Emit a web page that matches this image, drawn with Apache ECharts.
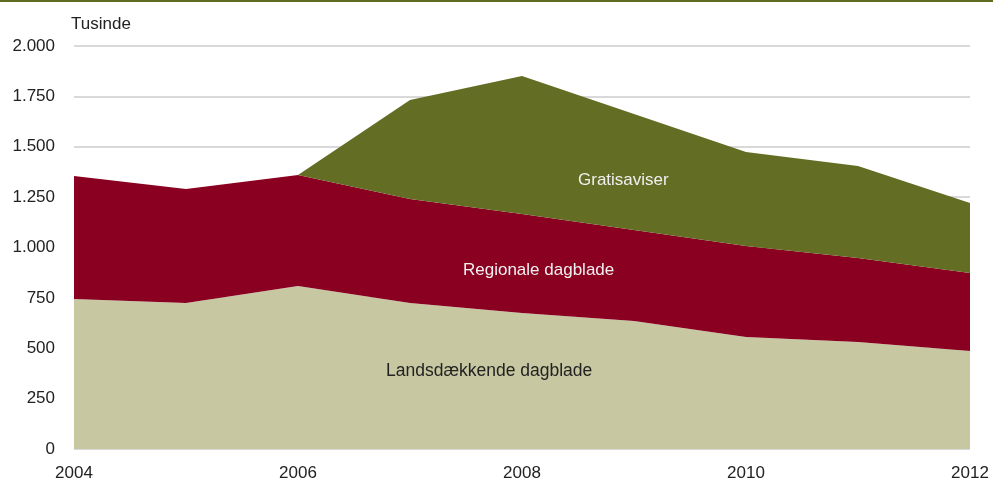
<!DOCTYPE html>
<html><head><meta charset="utf-8">
<script src="https://cdn.jsdelivr.net/npm/echarts@6/dist/echarts.min.js"></script>
<style>html,body{margin:0;padding:0;background:#fff}#c{width:993px;height:484px}</style>
</head><body><div id="c"></div>
<script>
const years = ['2004', '2005', '2006', '2007', '2008', '2009', '2010', '2011', '2012'];
const landsdaekkende = [744, 725, 809, 725, 675, 635, 556, 531, 486];
const regionale = [611, 565, 551, 516, 491, 452, 451, 417, 387];
const gratisaviser = [0, 0, 0, 491, 685, 576, 467, 456, 348];
const yTicks = [0, 250, 500, 750, 1000, 1250, 1500, 1750, 2000];

const FONT = '"Liberation Sans", Arial, sans-serif';
const fmt = v => v >= 1000 ? Math.floor(v / 1000) + '.' + String(v % 1000).padStart(3, '0') : String(v);

const chart = echarts.init(document.getElementById('c'), null, {renderer: 'canvas'});
const mk = (name, data, color) => ({
  name, type: 'line', stack: 'total', data, symbol: 'none',
  lineStyle: {width: 0}, areaStyle: {color, opacity: 1}, itemStyle: {color}
});
chart.setOption({
  animation: false,
  grid: {left: 74, right: 23, top: 46, bottom: 35},
  xAxis: {
    type: 'category', data: years, boundaryGap: false,
    axisLine: {show: false}, axisTick: {show: false}, splitLine: {show: false},
    axisLabel: {interval: 1, color: '#222', fontFamily: FONT, fontSize: 17, margin: 16}
  },
  yAxis: {
    type: 'value', min: yTicks[0], max: yTicks[yTicks.length - 1], interval: 250,
    axisLine: {show: false}, axisTick: {show: false},
    splitLine: {lineStyle: {color: '#d9d9d9', width: 2}},
    axisLabel: {color: '#222', fontFamily: FONT, fontSize: 17, margin: 19, formatter: fmt}
  },
  series: [
    mk('Landsdækkende dagblade', landsdaekkende, '#c7c8a2'),
    mk('Regionale dagblade', regionale, '#8a0021'),
    mk('Gratisaviser', gratisaviser, '#636d24')
  ],
  graphic: [
    {type: 'rect', z: 100, left: 0, top: 0, shape: {width: 993, height: 2}, style: {fill: '#5f6b1f'}},
    {type: 'text', z: 100, left: 71, top: 16, style: {text: 'Tusinde', fill: '#222', font: '17px ' + FONT}},
    {type: 'text', z: 100, left: 578, top: 172, style: {text: 'Gratisaviser', fill: '#f0f0f0', font: '17px ' + FONT}},
    {type: 'text', z: 100, left: 463, top: 262, style: {text: 'Regionale dagblade', fill: '#f0f0f0', font: '17px ' + FONT}},
    {type: 'text', z: 100, left: 386, top: 362, style: {text: 'Landsdækkende dagblade', fill: '#222', font: '17.5px ' + FONT}}
  ]
});
</script></body></html>
